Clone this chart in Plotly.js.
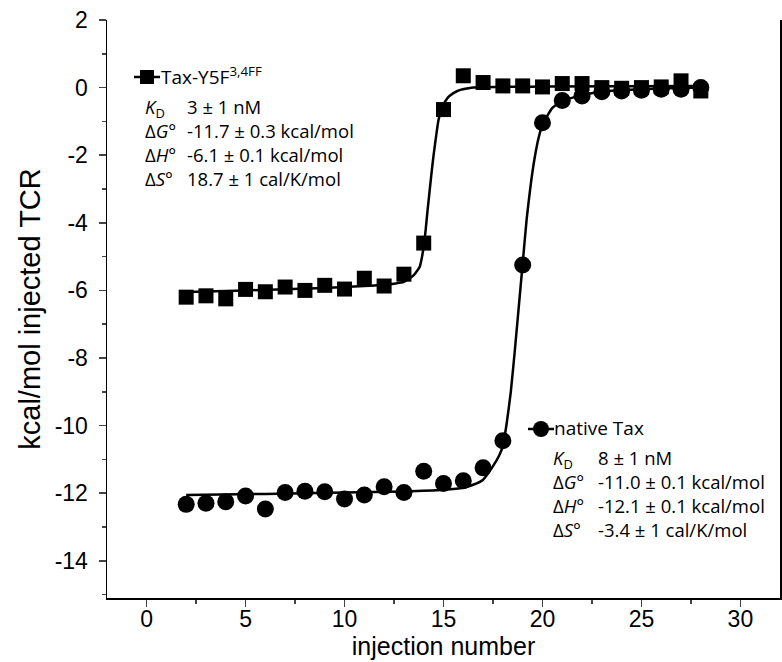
<!DOCTYPE html>
<html>
<head>
<meta charset="utf-8">
<script src="https://cdn.plot.ly/plotly-3.0.1.min.js"></script>
<style>html,body{margin:0;padding:0;background:#fff;}#chart{width:782px;height:662px;}</style>
</head>
<body>
<div id="chart"></div>
<script>
// Injection numbers
const injections = [2,3,4,5,6,7,8,9,10,11,12,13,14,15,16,17,18,19,20,21,22,23,24,25,26,27,28];
// Tax-Y5F3,4FF heats (kcal/mol injected TCR)
const taxY5F = [-6.2,-6.16,-6.25,-5.97,-6.04,-5.9,-6.0,-5.85,-5.96,-5.64,-5.87,-5.52,-4.6,-0.65,0.35,0.15,0.05,0.05,0.02,0.12,0.12,0.0,-0.02,0.0,0.02,0.2,-0.1];
// native Tax heats
const nativeTax = [-12.33,-12.3,-12.25,-12.08,-12.47,-11.98,-11.94,-11.96,-12.17,-12.05,-11.81,-11.98,-11.35,-11.71,-11.63,-11.25,-10.45,-5.25,-1.04,-0.38,-0.25,-0.12,-0.1,-0.08,-0.05,-0.05,0.0];
// fitted curves
const fitX1 = [2,5,9,11,12.5,13,13.5,13.8,13.9,14,14.1,14.2,14.3,14.4,14.5,14.6,14.75,14.9,15,15.15,15.3,15.7,16.5,20,28];
const fitY1 = [-6.05,-6.0,-5.93,-5.87,-5.8,-5.75,-5.55,-5.3,-5.05,-4.7,-4.2,-3.6,-3.05,-2.5,-2.0,-1.55,-0.95,-0.65,-0.5,-0.35,-0.25,-0.1,0.0,0.03,0.05];
const fitX2 = [2,6,10,13,15,16,16.5,17,17.5,17.8,18,18.2,18.4,18.6,18.8,19,19.2,19.4,19.6,19.8,20,20.5,21,22,23,25,28];
const fitY2 = [-12.05,-12.02,-11.98,-11.95,-11.9,-11.84,-11.75,-11.6,-11.2,-10.9,-10.6,-9.9,-9.0,-7.8,-6.5,-5.2,-3.9,-2.9,-2.1,-1.5,-1.1,-0.6,-0.4,-0.22,-0.12,-0.05,0.0];
// tick labels
const xTicks = [0,5,10,15,20,25,30];
const xTickText = ['0','5','10','15','20','25','30'];
const yTicks = [2,0,-2,-4,-6,-8,-10,-12,-14];
const yTickText = ['2','0','-2','-4','-6','-8','-10','-12','-14'];
// legend / parameter texts
const name1 = 'Tax-Y5F<sup>3,4FF</sup>';
const name2 = 'native Tax';
const paramLabels = ['<i>K</i><sub>D</sub>','Δ<i>G</i>°','Δ<i>H</i>°','Δ<i>S</i>°'];
const params1 = ['3 ± 1 nM','-11.7 ± 0.3 kcal/mol','-6.1 ± 0.1 kcal/mol','18.7 ± 1 cal/K/mol'];
const params2 = ['8 ± 1 nM','-11.0 ± 0.1 kcal/mol','-12.1 ± 0.1 kcal/mol','-3.4 ± 1 cal/K/mol'];

const W = 782, H = 662, L = 107, R = 2, T = 20, B = 64;
const pw = W - L - R, ph = H - T - B;
const px = x => (x - L) / pw;
const py = y => (H - B - y) / ph;

const traces = [
  {x: fitX1, y: fitY1, mode: 'lines', line: {color: '#000', width: 2.5, shape: 'spline', smoothing: 0.5}, hoverinfo: 'skip'},
  {x: fitX2, y: fitY2, mode: 'lines', line: {color: '#000', width: 2.5, shape: 'spline', smoothing: 0.5}, hoverinfo: 'skip'},
  {x: injections, y: taxY5F, mode: 'markers', marker: {symbol: 'square', size: 15, color: '#000'}},
  {x: injections, y: nativeTax, mode: 'markers', marker: {symbol: 'circle', size: 17, color: '#000'}}
];

const annFont = {family: 'Open Sans, sans-serif', size: 18.5, color: '#000'};
const annotations = [];
function addBlock(labX, valX, yc, titleX, titleY, title, vals) {
  annotations.push({xref: 'paper', yref: 'paper', x: px(titleX), y: py(titleY), xanchor: 'left', yanchor: 'middle', borderpad: 0, text: title, showarrow: false, font: {family: 'Open Sans, sans-serif', size: 19, color: '#000'}});
  annotations.push({xref: 'paper', yref: 'paper', x: px(labX), y: py(yc), xanchor: 'left', yanchor: 'middle', align: 'left', borderpad: 0, text: paramLabels.join('<br>'), showarrow: false, font: annFont});
  annotations.push({xref: 'paper', yref: 'paper', x: px(valX), y: py(yc), xanchor: 'left', yanchor: 'middle', align: 'left', borderpad: 0, text: vals.join('<br>'), showarrow: false, font: annFont});
}
addBlock(144, 186, 142, 160, 76, name1, params1);
addBlock(552, 597, 493, 553, 428, name2, params2);

function sym(cx, cy, type) {
  const base = {xref: 'paper', yref: 'paper', xsizemode: 'pixel', ysizemode: 'pixel', xanchor: px(cx), yanchor: py(cy)};
  const out = [Object.assign({}, base, {type: 'line', x0: -13, x1: 13, y0: 0, y1: 0, line: {color: '#000', width: 2.5}})];
  if (type === 'square') out.push(Object.assign({}, base, {type: 'rect', x0: -7, x1: 7, y0: -7, y1: 7, fillcolor: '#000', line: {width: 0}}));
  else out.push(Object.assign({}, base, {type: 'circle', x0: -8, x1: 8, y0: -8, y1: 8, fillcolor: '#000', line: {width: 0}}));
  return out;
}
const shapes = [].concat(sym(147, 77, 'square'), sym(541, 429, 'circle'));

const tickFont = {family: 'Liberation Sans, Arial, sans-serif', size: 23, color: '#000'};
const layout = {
  width: W, height: H,
  margin: {l: L, r: R, t: T, b: B},
  paper_bgcolor: '#fff', plot_bgcolor: '#fff',
  showlegend: false,
  xaxis: {
    range: [-2, 32], tickmode: 'array', tickvals: xTicks, ticktext: xTickText, ticks: 'outside', ticklen: 7, tickwidth: 1.5,
    minor: {dtick: 2.5, tick0: 0, ticks: 'outside', ticklen: 4, tickwidth: 1.5},
    showline: true, linewidth: 1.5, linecolor: '#000', showgrid: false, zeroline: false,
    tickfont: tickFont, ticklabelstandoff: -7,
    title: {text: 'injection number', font: {family: 'Liberation Sans, Arial, sans-serif', size: 25, color: '#000'}, standoff: 4}
  },
  yaxis: {
    range: [-15.1, 2], tickmode: 'array', tickvals: yTicks, ticktext: yTickText, ticks: 'outside', ticklen: 7, tickwidth: 1.5,
    minor: {dtick: 1, tick0: 0, ticks: 'outside', ticklen: 4, tickwidth: 1.5},
    showline: true, mirror: true, linewidth: 1.5, linecolor: '#000', showgrid: false, zeroline: false,
    tickfont: tickFont, ticklabelstandoff: 6,
    title: {text: 'kcal/mol injected TCR', font: {family: 'Liberation Sans, Arial, sans-serif', size: 29, color: '#000'}, standoff: 5}
  },
  annotations: annotations,
  shapes: shapes
};
Plotly.newPlot('chart', traces, layout, {displayModeBar: false, staticPlot: true});
</script>
</body>
</html>
